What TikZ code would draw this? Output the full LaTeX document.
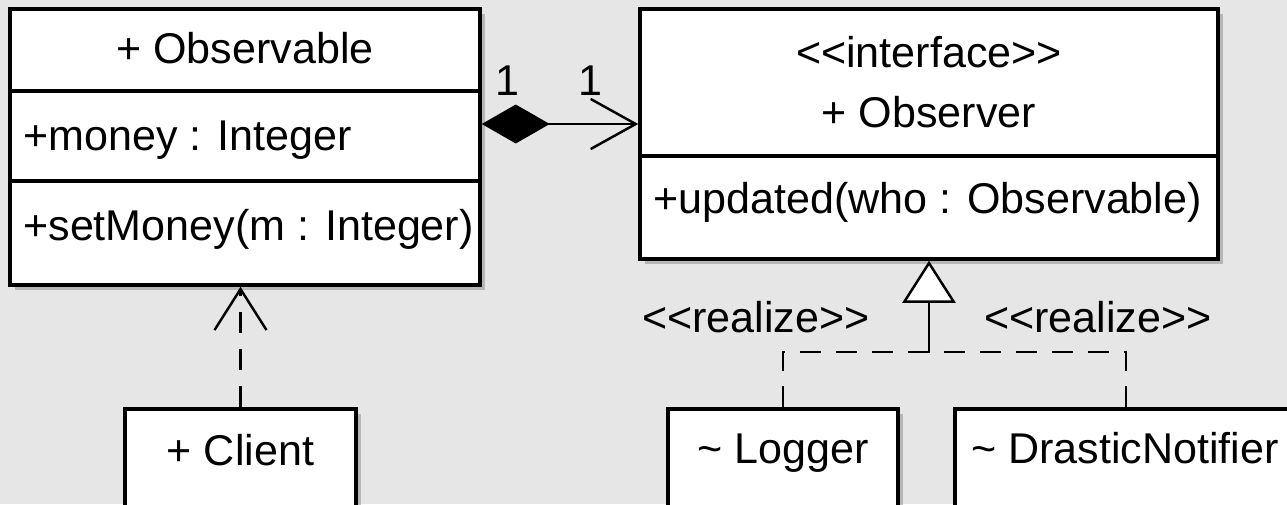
\documentclass[tikz,border=0pt]{standalone}
\usepackage{fontspec}
\setmainfont{Liberation Sans}
\usetikzlibrary{arrows.meta,shadows}
\definecolor{bgGray}{RGB}{230,230,230}
\newcommand{\stereo}[1]{<{}<#1>{}>}
\tikzset{
  classbox/.style={draw=black, line width=2pt, fill=white, inner sep=0pt,
    drop shadow={shadow xshift=1mm, shadow yshift=-1mm, fill=black!40, opacity=0.6}},
  umltext/.style={inner sep=0pt, font=\fontsize{24.5}{29}\selectfont},
  divider/.style={line width=2pt},
  comp/.style={line width=1.4pt, {Diamond[length=13.6mm, width=7.8mm]}-{Straight Barb[length=9mm, width=10mm]}},
  dep/.style={line width=1.4pt, dash pattern=on 4.2mm off 3.2mm, -{Straight Barb[length=8.2mm, width=10.4mm]}},
  real/.style={line width=1.4pt, dash pattern=on 4.2mm off 3mm},
  inh/.style={line width=1.4pt, -{Triangle[open, length=8.4mm, width=10.6mm, fill=white]}}
}

\begin{document}
\begin{tikzpicture}[x=0.2mm, y=-0.2mm]
    \useasboundingbox (0,0) rectangle (1287,504);
    \fill[bgGray] (0,0) rectangle (1287,504);
    \clip (0,0) rectangle (1287,504);

    % classes
    \node[classbox, minimum width=94mm, minimum height=55.2mm] (observable) at (245,147) {};
    \node[classbox, minimum width=115.6mm, minimum height=50mm] (observer) at (929,134) {};
    \node[classbox, minimum width=46.2mm, minimum height=26mm] (client) at (240.5,474) {};
    \node[classbox, minimum width=46mm, minimum height=26mm] (logger) at (783,474) {};
    \node[classbox, minimum width=68.4mm, minimum height=26mm] (notifier) at (1126,474) {};

    \draw[divider] (observable.west |- 0,91) -- (observable.east |- 0,91);
    \draw[divider] (observable.west |- 0,181) -- (observable.east |- 0,181);
    \draw[divider] (observer.west |- 0,156) -- (observer.east |- 0,156);

    \node[umltext, anchor=base] (obsname) at (245,63) {+ Observable};
    \node[umltext, anchor=base west] (obsattr) at (23,150) {+money : Integer};
    \node[umltext, anchor=base west] (obsop) at (23,240) {+setMoney(m : Integer)};
    \node[umltext, anchor=base] (obsvstereo) at (929,67) {\stereo{interface}};
    \node[umltext, anchor=base] (obsvname) at (929,127) {+ Observer};
    \node[umltext, anchor=base west] (obsvop) at (653,213) {+updated(who : Observable)};
    \node[umltext, anchor=base] (clientname) at (240.5,465) {+ Client};
    \node[umltext, anchor=base] (loggername) at (783,463) {\textasciitilde{} Logger};
    \node[umltext, anchor=base west] (notifiername) at (971,463) {\textasciitilde{} DrasticNotifier};

    % relations
    \draw[comp] (observable.east |- 0,124) -- (observer.west |- 0,124);
    \node[umltext, anchor=base] (multA) at (507,95) {1};
    \node[umltext, anchor=base] (multB) at (590,95) {1};

    \draw[dep] (client.north) -- (client.north |- observable.south);

    \coordinate (joint) at (observer.south |- 0,352);
    \draw[real] (logger.north) |- (joint);
    \draw[real] (notifier.north) |- (joint);
    \draw[inh] (joint) -- (observer.south);
    \node[umltext, anchor=base] (realA) at (756,332) {\stereo{realize}};
    \node[umltext, anchor=base] (realB) at (1098,332) {\stereo{realize}};

\end{tikzpicture}
\end{document}
